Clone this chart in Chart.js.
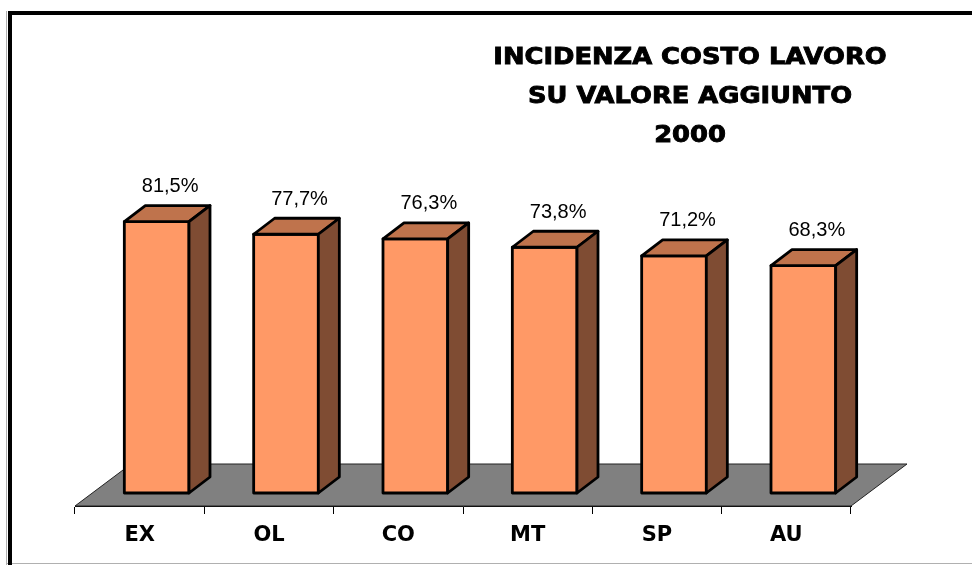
<!DOCTYPE html>
<html>
<head>
<meta charset="utf-8">
<script src="https://cdn.jsdelivr.net/npm/chart.js@4/dist/chart.umd.min.js"></script>
<style>
  html, body { margin: 0; padding: 0; background: #fff; }
  #wrap { width: 972px; height: 565px; position: relative; }
</style>
</head>
<body>
<div id="wrap"><canvas id="chart" width="972" height="565"></canvas></div>
<script>
// data
const categories = ['EX', 'OL', 'CO', 'MT', 'SP', 'AU'];
const values = [81.5, 77.7, 76.3, 73.8, 71.2, 68.3];
const titleLines = ['INCIDENZA COSTO LAVORO', 'SU VALORE AGGIUNTO', '2000'];

// colours
const FRONT = '#FF9966';
const TOP = '#BF734C';
const SIDE = '#7F4C33';
const FLOOR = '#808080';

// 3d look: floor depth and where the bars sit in it
const FLOOR_DX = 56, FLOOR_DY = -42;
const BAR_OFF_DX = 17, BAR_OFF_DY = -13;
const BAR_DX = 21, BAR_DY = -16;

function fmt(v) {
  return v.toFixed(1).replace('.', ',') + '%';
}

function poly(ctx, pts, fill) {
  ctx.beginPath();
  ctx.moveTo(pts[0][0], pts[0][1]);
  for (let i = 1; i < pts.length; i++) ctx.lineTo(pts[i][0], pts[i][1]);
  ctx.closePath();
  ctx.fillStyle = fill;
  ctx.fill();
  ctx.stroke();
}

// frame, floor, bars, labels, title
const bars3d = {
  id: 'bars3d',
  beforeDraw(chart) {
    const ctx = chart.ctx;
    ctx.save();
    ctx.fillStyle = '#fff';
    ctx.fillRect(0, 0, chart.width, chart.height);
    ctx.fillStyle = '#b0b0b0';
    ctx.fillRect(6, 11, 1, chart.height - 11);
    ctx.fillRect(6, 563, chart.width - 6, 1);
    ctx.fillStyle = '#000';
    ctx.fillRect(8, 11, chart.width - 8, 4);
    ctx.fillRect(8, 11, 4, chart.height - 11);
    ctx.restore();
  },
  beforeDatasetsDraw(chart) {
    const ctx = chart.ctx;
    const a = chart.chartArea;
    ctx.save();
    ctx.strokeStyle = '#222';
    ctx.lineWidth = 1;
    poly(ctx, [
      [a.left, a.bottom],
      [a.right, a.bottom],
      [a.right + FLOOR_DX, a.bottom + FLOOR_DY],
      [a.left + FLOOR_DX, a.bottom + FLOOR_DY]
    ], FLOOR);
    ctx.restore();
  },
  afterDatasetsDraw(chart) {
    const ctx = chart.ctx;
    const meta = chart.getDatasetMeta(0);
    ctx.save();
    ctx.lineJoin = 'round';
    meta.data.forEach((bar, i) => {
      const x1 = bar.x - bar.width / 2 + BAR_OFF_DX;
      const x2 = bar.x + bar.width / 2 + BAR_OFF_DX;
      const yt = bar.y + BAR_OFF_DY;
      const yb = bar.base + BAR_OFF_DY;
      ctx.strokeStyle = '#000';
      ctx.lineWidth = 2.8;
      poly(ctx, [[x1, yt], [x2, yt], [x2, yb], [x1, yb]], FRONT);
      poly(ctx, [[x1, yt], [x2, yt], [x2 + BAR_DX, yt + BAR_DY], [x1 + BAR_DX, yt + BAR_DY]], TOP);
      poly(ctx, [[x2, yt], [x2 + BAR_DX, yt + BAR_DY], [x2 + BAR_DX, yb + BAR_DY], [x2, yb]], SIDE);

      ctx.fillStyle = '#000';
      ctx.font = '20px "Liberation Sans", Arial, sans-serif';
      ctx.textAlign = 'center';
      ctx.textBaseline = 'middle';
      ctx.fillText(fmt(values[i]), (x1 + x2) / 2 + BAR_DX / 2 + 3, yt + BAR_DY - 19);
    });

    // title, widened and thickened to look like the heavier original face
    ctx.font = 'bold 23px "DejaVu Sans", Verdana, sans-serif';
    ctx.textAlign = 'center';
    ctx.textBaseline = 'middle';
    ctx.lineWidth = 0.9;
    ctx.strokeStyle = '#000';
    ctx.lineJoin = 'miter';
    titleLines.forEach((line, i) => {
      ctx.save();
      ctx.translate(690, 58 + i * 39);
      ctx.scale(1.12, 1);
      ctx.fillText(line, 0, 0);
      ctx.strokeText(line, 0, 0);
      ctx.restore();
    });
    ctx.restore();
  }
};

new Chart(document.getElementById('chart'), {
  type: 'bar',
  data: {
    labels: categories,
    datasets: [{
      data: values,
      backgroundColor: 'rgba(0,0,0,0)',
      borderWidth: 0,
      barPercentage: 0.5,
      categoryPercentage: 1
    }]
  },
  options: {
    responsive: false,
    animation: false,
    events: [],
    layout: { padding: { left: 75, right: 121, top: 173, bottom: 0 } },
    plugins: {
      legend: { display: false },
      tooltip: { enabled: false },
      title: { display: false }
    },
    scales: {
      x: {
        afterFit(scale) { scale.height = 59; },
        grid: {
          display: true,
          drawOnChartArea: false,
          tickLength: 8,
          color: '#000'
        },
        border: { display: true, color: '#000', width: 1 },
        ticks: {
          color: '#000',
          padding: 9,
          font: { family: '"DejaVu Sans", Verdana, sans-serif', size: 21, weight: 'bold' }
        }
      },
      y: {
        display: false,
        min: 0,
        max: 100
      }
    }
  },
  plugins: [bars3d]
});
</script>
</body>
</html>
